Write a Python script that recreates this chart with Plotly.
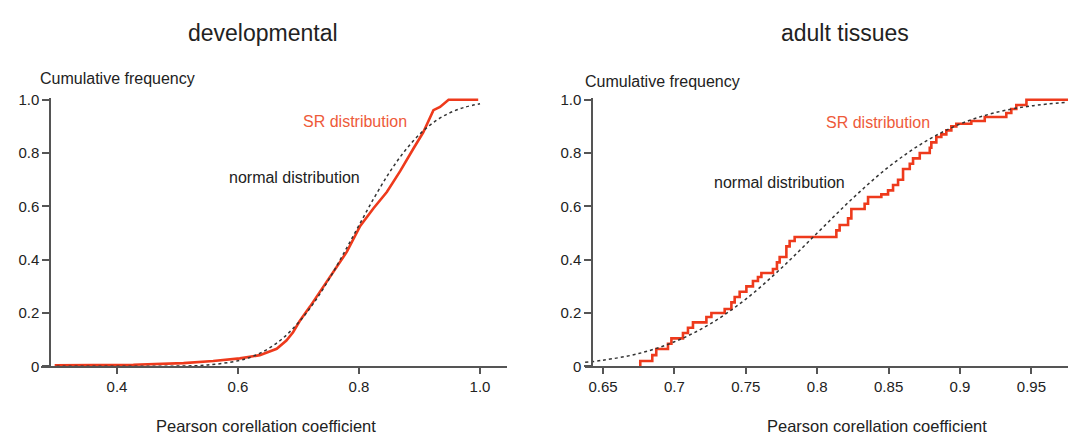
import plotly.graph_objects as go

# ---------------- data ----------------
# developmental: SR distribution (cumulative frequency)
dev_sr_x = [0.297, 0.427, 0.510, 0.559, 0.603, 0.636, 0.664, 0.680, 0.691, 0.702, 0.719,
            0.741, 0.763, 0.780, 0.802, 0.824, 0.846, 0.868, 0.890, 0.906, 0.923, 0.934,
            0.948, 0.997]
dev_sr_y = [0.004, 0.006, 0.012, 0.020, 0.030, 0.042, 0.066, 0.097, 0.128, 0.170, 0.224,
            0.297, 0.369, 0.430, 0.527, 0.593, 0.654, 0.732, 0.817, 0.877, 0.961, 0.973,
            1.000, 1.000]
# developmental: normal distribution (dashed)
dev_norm_x = [0.30, 0.35, 0.40, 0.45, 0.50, 0.55, 0.60, 0.625, 0.65, 0.675, 0.70, 0.725,
              0.75, 0.775, 0.80, 0.825, 0.85, 0.875, 0.90, 0.925, 0.95, 0.975, 1.00]
dev_norm_y = [0.000, 0.000, 0.000, 0.000, 0.001, 0.005, 0.021, 0.038, 0.066, 0.107, 0.164,
              0.237, 0.325, 0.425, 0.529, 0.632, 0.726, 0.806, 0.870, 0.918, 0.951, 0.972,
              0.985]

# adult tissues: SR distribution (step function)
adult_sr_x = [0.6761, 0.6761, 0.6845, 0.6873, 0.6955, 0.6979, 0.7060, 0.7095, 0.7130, 0.7224,
              0.7259, 0.7352, 0.7399, 0.7422, 0.7457, 0.7504, 0.7550, 0.7585, 0.7609, 0.7690,
              0.7718, 0.7737, 0.7784, 0.7807, 0.7842, 0.8134, 0.8157, 0.8216, 0.8239, 0.8332,
              0.8356, 0.8449, 0.8496, 0.8531, 0.8566, 0.8601, 0.8648, 0.8671, 0.8718, 0.8788,
              0.8799, 0.8834, 0.8869, 0.8904, 0.8939, 0.8974, 0.9079, 0.9173, 0.9324, 0.9359,
              0.9394, 0.9465, 0.9756]
adult_sr_y = [0.000, 0.020, 0.042, 0.065, 0.085, 0.105, 0.125, 0.145, 0.165, 0.185,
              0.200, 0.215, 0.240, 0.260, 0.280, 0.300, 0.320, 0.335, 0.350, 0.365,
              0.390, 0.410, 0.450, 0.470, 0.485, 0.510, 0.530, 0.555, 0.590, 0.610,
              0.635, 0.645, 0.660, 0.680, 0.700, 0.740, 0.760, 0.780, 0.800, 0.820,
              0.840, 0.860, 0.870, 0.885, 0.900, 0.910, 0.920, 0.935, 0.950, 0.965,
              0.980, 1.000, 1.000]
# adult tissues: normal distribution (dashed)
adult_norm_x = [0.6375, 0.65, 0.675, 0.70, 0.725, 0.75, 0.775, 0.80, 0.825, 0.85, 0.875,
                0.90, 0.925, 0.95, 0.975]
adult_norm_y = [0.015, 0.023, 0.048, 0.092, 0.159, 0.252, 0.369, 0.500, 0.631, 0.748, 0.841,
                0.909, 0.952, 0.977, 0.990]

y_ticks = [0, 0.2, 0.4, 0.6, 0.8, 1.0]
y_ticklabels = ["0", "0.2", "0.4", "0.6", "0.8", "1.0"]
dev_xticks = [0.4, 0.6, 0.8, 1.0]
dev_xticklabels = ["0.4", "0.6", "0.8", "1.0"]
adult_xticks = [0.65, 0.70, 0.75, 0.80, 0.85, 0.90, 0.95]
adult_xticklabels = ["0.65", "0.7", "0.75", "0.8", "0.85", "0.9", "0.95"]

# ---------------- styling ----------------
W, H = 1068, 441
FONT = "Liberation Sans, Arial, sans-serif"
RED = "#EE3A1C"
RED_TXT = "#EE5A3A"
DASH = "#333333"
AXIS = "#555555"

fig = go.Figure()

fig.add_trace(go.Scatter(x=dev_sr_x, y=dev_sr_y, mode="lines", xaxis="x", yaxis="y",
                         line=dict(color=RED, width=2.6), showlegend=False, hoverinfo="skip"))
fig.add_trace(go.Scatter(x=dev_norm_x, y=dev_norm_y, mode="lines", xaxis="x", yaxis="y",
                         line=dict(color=DASH, width=1.5, dash="3px,3px", shape="spline"),
                         showlegend=False, hoverinfo="skip"))
fig.add_trace(go.Scatter(x=adult_sr_x, y=adult_sr_y, mode="lines", xaxis="x2", yaxis="y2",
                         line=dict(color=RED, width=2.6, shape="hv"), showlegend=False,
                         hoverinfo="skip"))
fig.add_trace(go.Scatter(x=adult_norm_x, y=adult_norm_y, mode="lines", xaxis="x2", yaxis="y2",
                         line=dict(color=DASH, width=1.5, dash="3px,3px", shape="spline"),
                         showlegend=False, hoverinfo="skip"))

ydom = [1 - 372 / H, 1 - 93.8 / H]

common_x = dict(showline=True, linecolor=AXIS, linewidth=1.5, ticks="outside", ticklen=6,
                tickwidth=1.5, tickcolor=AXIS, showgrid=False, zeroline=False,
                tickfont=dict(family=FONT, size=15, color="#222"), fixedrange=True)
common_y = dict(showline=True, linecolor=AXIS, linewidth=1.5, ticks="outside", ticklen=7,
                tickwidth=1.5, tickcolor=AXIS, showgrid=False, zeroline=False,
                tickvals=y_ticks, ticktext=y_ticklabels, range=[0, 1.008],
                tickfont=dict(family=FONT, size=15, color="#222"), fixedrange=True,
                domain=ydom, anchor="free")

fig.update_layout(
    width=W, height=H,
    margin=dict(l=0, r=0, t=0, b=0),
    paper_bgcolor="white", plot_bgcolor="white",
    font=dict(family=FONT, color="#222"),
    xaxis=dict(domain=[41 / W, 507 / W], range=[0.2744, 1.0446], anchor="y",
               tickvals=dev_xticks, ticktext=dev_xticklabels, **common_x),
    yaxis=dict(position=50 / W, **common_y),
    xaxis2=dict(domain=[585 / W, 1.0], range=[0.6374, 0.9756], anchor="y2",
                tickvals=adult_xticks, ticktext=adult_xticklabels, **common_x),
    yaxis2=dict(position=592 / W, **common_y),
)

def ann(text, x, y, size, color="#222", xref="paper", yref="paper", xanchor="center"):
    fig.add_annotation(text=text, x=x, y=y, xref=xref, yref=yref, showarrow=False,
                       xanchor=xanchor, yanchor="middle",
                       font=dict(family=FONT, size=size, color=color))

# panel titles
ann("developmental", 263 / W, 1 - 27 / H, 23)
ann("adult tissues", 845 / W, 1 - 27 / H, 23)
# y-axis titles
ann("Cumulative frequency", 38 / W, 1 - 74 / H, 16, xanchor="left")
ann("Cumulative frequency", 583 / W, 1 - 77 / H, 16, xanchor="left")
# x-axis titles
ann("Pearson corellation coefficient", 266 / W, 1 - 434 / H, 16.5)
ann("Pearson corellation coefficient", 877 / W, 1 - 434 / H, 16.5)
# in-plot labels
ann("SR distribution", 0.793, 0.917, 16, color=RED_TXT, xref="x", yref="y")
ann("normal distribution", 0.693, 0.707, 16, xref="x", yref="y")
ann("SR distribution", 0.8424, 0.916, 16, color=RED_TXT, xref="x2", yref="y2")
ann("normal distribution", 0.7737, 0.691, 16, xref="x2", yref="y2")

fig.write_html("out.html",
               post_script="document.body.style.margin='0';document.body.style.overflow='hidden';")
